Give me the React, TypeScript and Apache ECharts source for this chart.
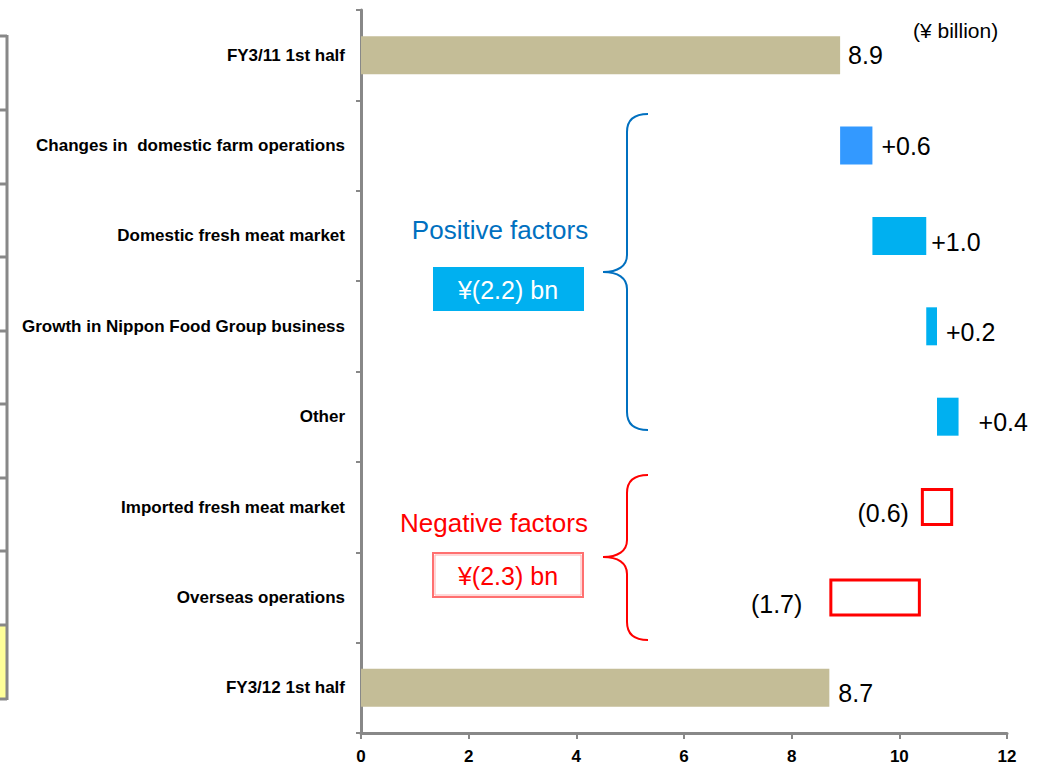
import React, { useEffect, useRef } from "react";
import * as echarts from "echarts";

const categories = [
  "FY3/11 1st half",
  "Changes in  domestic farm operations",
  "Domestic fresh meat market",
  "Growth in Nippon Food Group business",
  "Other",
  "Imported fresh meat market",
  "Overseas operations",
  "FY3/12 1st half",
];
// signed change (or total) for each step, ¥ billion
const values = [8.9, 0.6, 1.0, 0.2, 0.4, -0.6, -1.7, 8.7];
// where each floating bar starts (its lower end)
const bases = [0, 8.9, 9.5, 10.5, 10.7, 10.4, 8.7, 0];
const kinds = ["total", "up2", "up", "up", "up", "down", "down", "total"];
const xTicks = { min: 0, max: 12, interval: 2 };

const FONT = "'Liberation Sans', Arial, Helvetica, sans-serif";

function fmt(v: number, kind: string): string {
  if (kind === "total") return v.toFixed(1);
  if (v >= 0) return "+" + v.toFixed(1);
  return "(" + Math.abs(v).toFixed(1) + ")";
}

const braceBlue =
  "M648,114 C634,114 627,120 627,132 L627,255 C627,266 618,272 603,272 C618,272 627,278 627,289 L627,412 C627,424 634,430 648,430";
const braceRed =
  "M648,475 C634,475 627,481 627,493 L627,540 C627,551 618,557 603,557 C618,557 627,563 627,574 L627,622 C627,634 634,640 648,640";

let registered = false;
function registerShapes() {
  if (registered) return;
  registered = true;
  echarts.graphic.registerShape("braceBlue", echarts.graphic.extendPath(braceBlue, {}) as any);
  echarts.graphic.registerShape("braceRed", echarts.graphic.extendPath(braceRed, {}) as any);
}

export default function App() {
  const ref = useRef<HTMLDivElement>(null);

  useEffect(() => {
    if (!ref.current) return;
    registerShapes();
    const chart = echarts.init(ref.current, null, { renderer: "svg" });

    const labelGap = [8, 9, 5, 9, 20, 12, 27, 9];
    const labelDy = [0, 0, 6, 6, 5, 6, 7, 5];

    const valueData = values.map((v, i) => {
      const kind = kinds[i];
      let itemStyle: any;
      if (kind === "total") itemStyle = { color: "#C4BD97" };
      else if (kind === "up2") itemStyle = { color: "#3399FF" };
      else if (kind === "up") itemStyle = { color: "#00B0F0" };
      else itemStyle = { color: "#FFFFFF", borderColor: "#FF0000", borderWidth: 3 };
      return {
        value: Math.abs(v),
        itemStyle,
        label: {
          show: true,
          position: kind === "down" ? "left" : "right",
          distance: labelGap[i],
          offset: [0, labelDy[i]],
          formatter: () => fmt(v, kind),
          fontSize: 25,
          color: "#000000",
          fontFamily: FONT,
        },
      };
    });

    const leftLines = [36, 110, 184, 257, 331, 404, 478, 551, 625, 699];

    const graphic: any[] = [
      {
        type: "rect",
        shape: { x: 0, y: 625, width: 6, height: 73 },
        style: { fill: "#FFFF99" },
        silent: true,
      },
      {
        type: "line",
        shape: { x1: 7, y1: 35, x2: 7, y2: 700 },
        style: { stroke: "#888888", lineWidth: 3 },
        silent: true,
      },
      ...leftLines.map((y) => ({
        type: "line",
        shape: { x1: 0, y1: y, x2: 7, y2: y },
        style: { stroke: "#888888", lineWidth: 3 },
        silent: true,
      })),
      {
        type: "text",
        left: 913,
        top: 20,
        style: { text: "(¥ billion)", fontSize: 21, fill: "#000000", fontFamily: FONT },
      },
      {
        type: "text",
        x: 500,
        y: 230,
        style: {
          text: "Positive factors",
          fontSize: 26,
          fill: "#0070C0",
          fontFamily: FONT,
          align: "center",
          verticalAlign: "middle",
        },
      },
      {
        type: "rect",
        shape: { x: 433, y: 267, width: 151, height: 44 },
        style: { fill: "#00B0F0" },
      },
      {
        type: "text",
        x: 508,
        y: 290,
        style: {
          text: "¥(2.2) bn",
          fontSize: 25,
          fill: "#FFFFFF",
          fontFamily: FONT,
          align: "center",
          verticalAlign: "middle",
        },
      },
      {
        type: "text",
        x: 494,
        y: 523,
        style: {
          text: "Negative factors",
          fontSize: 26,
          fill: "#FF0000",
          fontFamily: FONT,
          align: "center",
          verticalAlign: "middle",
        },
      },
      {
        type: "rect",
        shape: { x: 433, y: 553, width: 150, height: 44 },
        style: { fill: "#FFFFFF", stroke: "#FF7070", lineWidth: 2 },
      },
      {
        type: "rect",
        shape: { x: 435, y: 555, width: 146, height: 40 },
        style: { fill: "none", stroke: "#FFB0B0", lineWidth: 1 },
      },
      {
        type: "text",
        x: 508,
        y: 576,
        style: {
          text: "¥(2.3) bn",
          fontSize: 25,
          fill: "#FF0000",
          fontFamily: FONT,
          align: "center",
          verticalAlign: "middle",
        },
      },
      {
        type: "braceBlue",
        x: 0,
        y: 0,
        style: { fill: "none", stroke: "#0070C0", lineWidth: 2 },
      },
      {
        type: "braceRed",
        x: 0,
        y: 0,
        style: { fill: "none", stroke: "#FF0000", lineWidth: 2 },
      },
    ];

    chart.setOption({
      animation: false,
      backgroundColor: "#FFFFFF",
      grid: { left: 361, right: 41, top: 10, bottom: 34, containLabel: false },
      xAxis: {
        type: "value",
        min: xTicks.min,
        max: xTicks.max,
        interval: xTicks.interval,
        axisLine: { show: true, lineStyle: { color: "#888888", width: 3 } },
        axisTick: { show: true, length: 6, lineStyle: { color: "#888888", width: 2 } },
        splitLine: { show: false },
        axisLabel: {
          fontSize: 17,
          fontWeight: "bold",
          color: "#000000",
          fontFamily: FONT,
          margin: 15,
        },
      },
      yAxis: {
        type: "category",
        data: categories,
        inverse: true,
        axisLine: { show: true, lineStyle: { color: "#888888", width: 3 } },
        axisTick: { show: true, length: 5, lineStyle: { color: "#888888", width: 2 } },
        splitLine: { show: false },
        axisLabel: {
          fontSize: 17,
          fontWeight: "bold",
          color: "#000000",
          fontFamily: FONT,
          margin: 16,
        },
      },
      series: [
        {
          name: "base",
          type: "bar",
          stack: "w",
          barWidth: 38,
          silent: true,
          itemStyle: { color: "transparent" },
          data: bases,
        },
        {
          name: "value",
          type: "bar",
          stack: "w",
          barWidth: 38,
          data: valueData,
        },
      ],
      graphic,
    });

    return () => {
      chart.dispose();
    };
  }, []);

  return (
    <div
      ref={ref}
      style={{ position: "fixed", left: 0, top: 0, width: 1048, height: 767, background: "#fff" }}
    />
  );
}
